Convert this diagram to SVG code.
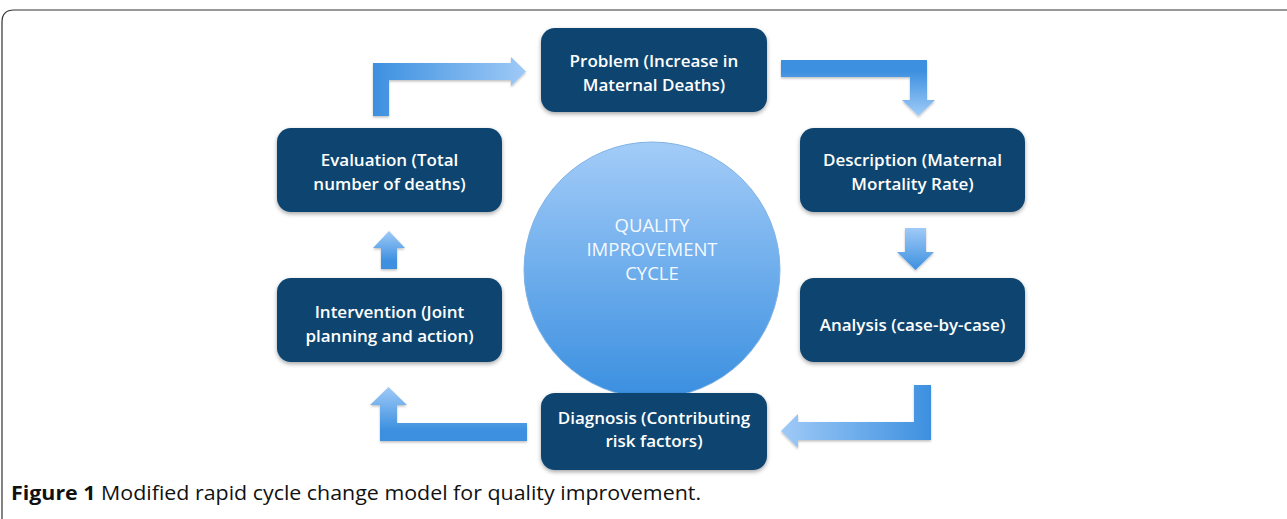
<svg xmlns="http://www.w3.org/2000/svg" width="1287" height="519" viewBox="0 0 1287 519">
<style>
.box{fill:#0b4470;}
.bt{font-family:"Open Sans","Liberation Sans",sans-serif;font-weight:600;font-size:17px;fill:#ffffff;text-anchor:middle;}
.ct{font-family:"Open Sans","Liberation Sans",sans-serif;font-size:18.5px;fill:#f4f9ff;text-anchor:middle;}
.cap{font-family:"Open Sans","Liberation Sans",sans-serif;font-size:20px;fill:#111;}
.arr{filter:url(#ash);}
</style>
<defs>
<filter id="sh" x="-10%" y="-10%" width="120%" height="130%">
<feDropShadow dx="0" dy="2" stdDeviation="2" flood-color="#000" flood-opacity="0.35"/>
</filter>
<filter id="ash" x="-10%" y="-10%" width="120%" height="130%">
<feDropShadow dx="0" dy="1.5" stdDeviation="1.2" flood-color="#000" flood-opacity="0.25"/>
</filter>
<linearGradient id="circ" x1="0" y1="0" x2="0" y2="1">
<stop offset="0" stop-color="#a3ccf8"/>
<stop offset="1" stop-color="#3a8fe0"/>
</linearGradient>
<linearGradient id="gR" x1="0" y1="0" x2="1" y2="0">
<stop offset="0" stop-color="#3d90e0"/>
<stop offset="1" stop-color="#9fcaf7"/>
</linearGradient>
<linearGradient id="gL" x1="1" y1="0" x2="0" y2="0">
<stop offset="0" stop-color="#3d90e0"/>
<stop offset="1" stop-color="#9fcaf7"/>
</linearGradient>
<linearGradient id="gD" x1="0" y1="0" x2="0" y2="1">
<stop offset="0" stop-color="#9fcaf7"/>
<stop offset="1" stop-color="#3d90e0"/>
</linearGradient>
<linearGradient id="gDn" x1="0" y1="0" x2="0" y2="1">
<stop offset="0.2" stop-color="#3d90e0"/>
<stop offset="1" stop-color="#a0ccf8"/>
</linearGradient>
<linearGradient id="gU" x1="0" y1="1" x2="0" y2="0">
<stop offset="0.2" stop-color="#3d90e0"/>
<stop offset="1" stop-color="#9fcaf7"/>
</linearGradient>
</defs>
<rect x="0" y="0" width="1287" height="519" fill="#ffffff"/>
<path d="M2,540 L2,22 Q2,10 14,10 L1300,10" fill="none" stroke="#333" stroke-width="1.2"/>

<g id="connectors">
<path class="arr" d="M373,116 L373,63 L511,63 L511,57 L526,71.5 L511,86 L511,80 L389,80 L389,116 Z" fill="url(#gR)"/>
<path class="arr" d="M781,60 L927,60 L927,100 L935,100 L918.5,116 L902,100 L910,100 L910,77 L781,77 Z" fill="url(#gDn)"/>
<path class="arr" d="M905,228 L926,228 L926,252 L934,252 L915.5,270 L897,252 L905,252 Z" fill="url(#gD)"/>
<path class="arr" d="M914,385 L931,385 L931,440 L798,440 L798,448 L781,431 L798,414 L798,422 L914,422 Z" fill="url(#gL)"/>
<path class="arr" d="M527,423 L527,441 L380,441 L380,405 L370,405 L388.5,387 L407,405 L397,405 L397,423 Z" fill="url(#gU)"/>
<path class="arr" d="M381,269 L397,269 L397,248 L405,248 L389,231 L373,248 L381,248 Z" fill="url(#gU)"/>
</g>

<g id="circle">
<circle cx="652" cy="270" r="128" fill="url(#circ)" stroke="#7fb3e6" stroke-width="1"/>
<text class="ct" x="652" y="232">QUALITY</text>
<text class="ct" x="652" y="256">IMPROVEMENT</text>
<text class="ct" x="652" y="280">CYCLE</text>
</g>

<g id="problem">
<rect class="box" x="541" y="28" width="226" height="84" rx="14" filter="url(#sh)"/>
<text class="bt" x="654" y="67">Problem (Increase in</text>
<text class="bt" x="654" y="91">Maternal Deaths)</text>
</g>
<g id="description">
<rect class="box" x="800" y="128" width="225" height="84" rx="14" filter="url(#sh)"/>
<text class="bt" x="912.5" y="166">Description (Maternal</text>
<text class="bt" x="912.5" y="190">Mortality Rate)</text>
</g>
<g id="analysis">
<rect class="box" x="800" y="278" width="225" height="84" rx="14" filter="url(#sh)"/>
<text class="bt" x="912.5" y="331">Analysis (case-by-case)</text>
</g>
<g id="diagnosis">
<rect class="box" x="541" y="393" width="226" height="77" rx="14" filter="url(#sh)"/>
<text class="bt" x="654" y="424">Diagnosis (Contributing</text>
<text class="bt" x="654" y="447">risk factors)</text>
</g>
<g id="intervention">
<rect class="box" x="277" y="278" width="225" height="84" rx="14" filter="url(#sh)"/>
<text class="bt" x="389.5" y="318">Intervention (Joint</text>
<text class="bt" x="389.5" y="342">planning and action)</text>
</g>
<g id="evaluation">
<rect class="box" x="277" y="128" width="225" height="84" rx="14" filter="url(#sh)"/>
<text class="bt" x="389.5" y="166">Evaluation (Total</text>
<text class="bt" x="389.5" y="190">number of deaths)</text>
</g>

<text class="cap" x="11" y="500" textLength="690" lengthAdjust="spacingAndGlyphs"><tspan font-weight="bold">Figure 1</tspan> Modified rapid cycle change model for quality improvement.</text>
</svg>
